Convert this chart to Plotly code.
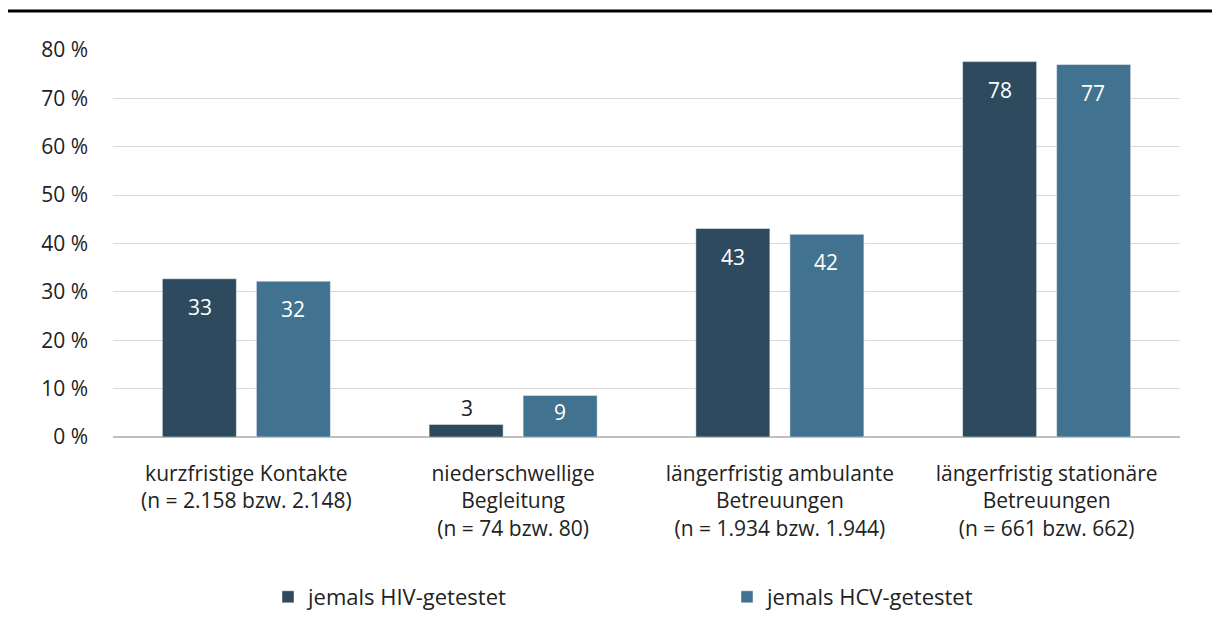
import plotly.graph_objects as go

categories = [
    "kurzfristige Kontakte<br>(n = 2.158 bzw. 2.148)",
    "niederschwellige<br>Begleitung<br>(n = 74 bzw. 80)",
    "längerfristig ambulante<br>Betreuungen<br>(n = 1.934 bzw. 1.944)",
    "längerfristig stationäre<br>Betreuungen<br>(n = 661 bzw. 662)",
]
hiv_values = [32.7, 2.6, 43.1, 77.6]
hcv_values = [32.2, 8.6, 41.9, 77.0]
series_names = ["jemals HIV-getestet", "jemals HCV-getestet"]
y_ticks = [0, 10, 20, 30, 40, 50, 60, 70, 80]
y_tick_labels = [f"{v} %" for v in y_ticks]

FONT = "Open Sans"
DARK = "#2d4a5e"
LIGHT = "#41728f"
TEXT = "#222222"

# page body has an 8px margin; figure coordinates below compensate for it
OFF = 8
W, H = 1204, 608
ML, MR, MT = 113 - OFF, W - (1180 - OFF), 50 - OFF
PLOT_BOTTOM = 437 - OFF
MB = H - PLOT_BOTTOM
plot_w = W - ML - MR
plot_h = PLOT_BOTTOM - MT

fig = go.Figure()
for name, vals, col in [(series_names[0], hiv_values, DARK), (series_names[1], hcv_values, LIGHT)]:
    fig.add_trace(go.Bar(
        x=categories, y=vals, name=name,
        marker=dict(color=col, line=dict(color="rgba(255,255,255,0.45)", width=1)),
        hoverinfo="x+y",
    ))

# value labels
for vals, shift in [(hiv_values, -46.5), (hcv_values, 46.5)]:
    for c, v in zip(categories, vals):
        hpx = v / 80 * plot_h
        if hpx < 30:
            fig.add_annotation(x=c, y=v, text=str(round(v)), showarrow=False,
                               xshift=shift, yshift=0, yanchor="bottom",
                               font=dict(family=FONT, size=21, color=TEXT))
        else:
            fig.add_annotation(x=c, y=v, text=str(round(v)), showarrow=False,
                               xshift=shift, yshift=-min(28, hpx * 0.4), yanchor="middle",
                               font=dict(family=FONT, size=21, color="white"))

line_y = (PLOT_BOTTOM - (11 - OFF)) / plot_h
fig.add_shape(type="line", xref="paper", yref="paper",
              x0=-ML / plot_w - 0.01, x1=(W - ML) / plot_w + 0.01,
              y0=line_y, y1=line_y,
              line=dict(color="black", width=3))

fig.update_layout(
    width=W, height=H,
    margin=dict(l=ML, r=MR, t=MT, b=MB, autoexpand=False),
    paper_bgcolor="white", plot_bgcolor="white",
    barmode="group", bargap=0.295, bargroupgap=0.2128,
    font=dict(family=FONT, size=21, color=TEXT),
    showlegend=True,
    legend=dict(orientation="h", x=(268 - 113) / plot_w, xanchor="left",
                y=(437 - 597) / plot_h, yanchor="middle",
                font=dict(family=FONT, size=22, color=TEXT),
                entrywidth=414, itemwidth=30, traceorder="normal"),
    xaxis=dict(showgrid=False, showline=False, ticks="", ticklabelstandoff=22,
               automargin=False, tickfont=dict(family=FONT, size=21, color=TEXT)),
    yaxis=dict(range=[0, 80], tickmode="array", tickvals=y_ticks, ticktext=y_tick_labels,
               showgrid=True, gridcolor="#d9d9d9", gridwidth=1,
               zeroline=True, zerolinecolor="#bfbfbf", zerolinewidth=2,
               showline=False, ticks="", ticklabelstandoff=24, automargin=False,
               tickfont=dict(family=FONT, size=21, color=TEXT)),
)

fig.write_html("out.html")
